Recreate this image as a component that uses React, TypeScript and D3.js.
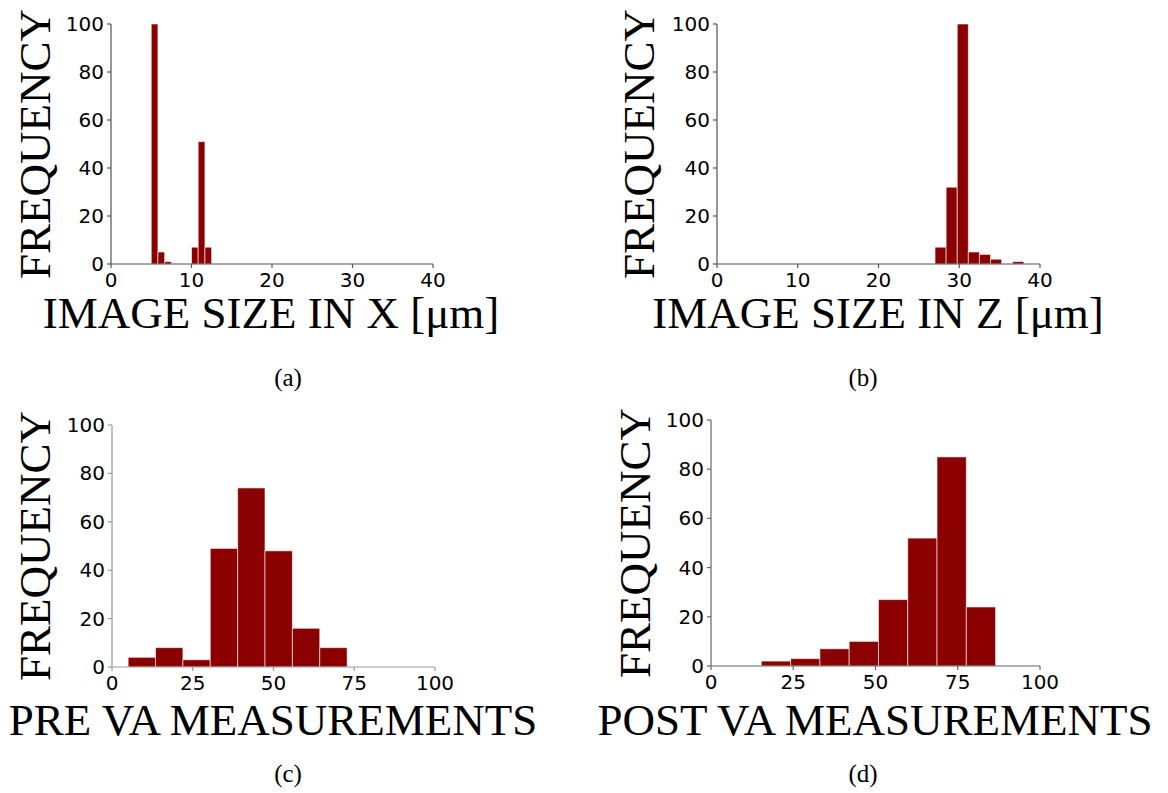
import React from 'react'
import * as d3 from 'd3'

// bin edges and counts
const edgesX = [5.0, 5.83, 6.67, 7.5, 8.33, 9.17, 10.0, 10.83, 11.67, 12.5]
const countsX = [100, 5, 1, 0, 0, 0, 7, 51, 7]

const edgesZ = [27.0, 28.375, 29.75, 31.125, 32.5, 33.875, 35.25, 36.625, 38.0]
const countsZ = [7, 32, 100, 5, 4, 2, 0, 1]

const edgesPre = [5.0, 13.47, 21.95, 30.42, 38.9, 47.37, 55.85, 64.32, 72.8]
const countsPre = [4, 8, 3, 49, 74, 48, 16, 8]

const edgesPost = [15.3, 24.2, 33.1, 42.0, 50.9, 59.8, 68.7, 77.6, 86.5]
const countsPost = [2, 3, 7, 10, 27, 52, 85, 24]

const ticksSize = [0, 10, 20, 30, 40]
const ticksVA = [0, 25, 50, 75, 100]
const ticksFreq = [0, 20, 40, 60, 80, 100]

const BAR = '#8b0000'
const SANS = '"DejaVu Sans", sans-serif'
const SERIF = '"Liberation Serif", "Times New Roman", serif'

type HistProps = {
  edges: number[]
  counts: number[]
  xDomain: [number, number]
  xTicks: number[]
  box: { left: number; right: number; top: number; bottom: number }
  axisColor: string
  xTitle: string
  xTitleX: number
  xTitleY: number
  yTitleX: number
  caption: string
  captionX: number
  captionY: number
}

const Histogram = (p: HistProps) => {
  const { left, right, top, bottom } = p.box
  const x = d3.scaleLinear().domain(p.xDomain).range([left, right])
  const y = d3.scaleLinear().domain([0, 100]).range([bottom, top])
  const bins = p.counts.map((c, i) => ({ x0: p.edges[i], x1: p.edges[i + 1], c }))

  return (
    <g>
      {bins
        .filter(b => b.c > 0)
        .map((b, i) => (
          <rect
            key={i}
            x={x(b.x0)}
            y={y(b.c)}
            width={x(b.x1) - x(b.x0)}
            height={y(0) - y(b.c)}
            fill={BAR}
            stroke="#fff"
            strokeOpacity={0.6}
            strokeWidth={1}
          />
        ))}

      {/* axes */}
      <line x1={left} x2={right} y1={bottom} y2={bottom} stroke={p.axisColor} strokeWidth={1.2} />
      <line x1={left} x2={left} y1={top} y2={bottom} stroke={p.axisColor} strokeWidth={1.2} />

      {p.xTicks.map(t => (
        <g key={'x' + t} transform={`translate(${x(t)},${bottom})`}>
          <line y2={4} stroke={p.axisColor} strokeWidth={1.2} />
          <text y={23} textAnchor="middle" fontFamily={SANS} fontSize={20} fill="#000">
            {t}
          </text>
        </g>
      ))}
      {ticksFreq.map(t => (
        <g key={'y' + t} transform={`translate(${left},${y(t)})`}>
          <line x2={-4} stroke={p.axisColor} strokeWidth={1.2} />
          <text x={-7} dy="0.35em" textAnchor="end" fontFamily={SANS} fontSize={20} fill="#000">
            {t}
          </text>
        </g>
      ))}

      {/* titles */}
      <text
        transform={`translate(${p.yTitleX},${(top + bottom) / 2}) rotate(-90)`}
        textAnchor="middle"
        fontFamily={SERIF}
        fontSize={45}
        fill="#000"
      >
        FREQUENCY
      </text>
      <text x={p.xTitleX} y={p.xTitleY} textAnchor="middle" fontFamily={SERIF} fontSize={45} fill="#000">
        {p.xTitle}
      </text>
      <text x={p.captionX} y={p.captionY} textAnchor="middle" fontFamily={SERIF} fontSize={25} fill="#000">
        {p.caption}
      </text>
    </g>
  )
}

export default function App() {
  return (
    <svg
      width={1168}
      height={793}
      style={{ position: 'absolute', left: 0, top: 0, background: '#fff' }}
    >
      <Histogram
        edges={edgesX}
        counts={countsX}
        xDomain={[0, 40]}
        xTicks={ticksSize}
        box={{ left: 111, right: 433, top: 24, bottom: 264 }}
        axisColor="#555"
        xTitle="IMAGE SIZE IN X [μm]"
        xTitleX={271}
        xTitleY={328}
        yTitleX={50}
        caption="(a)"
        captionX={288}
        captionY={386}
      />
      <Histogram
        edges={edgesZ}
        counts={countsZ}
        xDomain={[0, 40]}
        xTicks={ticksSize}
        box={{ left: 717, right: 1040, top: 24, bottom: 264 }}
        axisColor="#555"
        xTitle="IMAGE SIZE IN Z [μm]"
        xTitleX={878}
        xTitleY={328}
        yTitleX={654}
        caption="(b)"
        captionX={863}
        captionY={386}
      />
      <Histogram
        edges={edgesPre}
        counts={countsPre}
        xDomain={[0, 100]}
        xTicks={ticksVA}
        box={{ left: 112, right: 435, top: 425, bottom: 667 }}
        axisColor="#999"
        xTitle="PRE VA MEASUREMENTS"
        xTitleX={273}
        xTitleY={735}
        yTitleX={50}
        caption="(c)"
        captionX={288}
        captionY={782}
      />
      <Histogram
        edges={edgesPost}
        counts={countsPost}
        xDomain={[0, 100]}
        xTicks={ticksVA}
        box={{ left: 711, right: 1040, top: 420, bottom: 666 }}
        axisColor="#666"
        xTitle="POST VA MEASUREMENTS"
        xTitleX={875}
        xTitleY={735}
        yTitleX={650}
        caption="(d)"
        captionX={863}
        captionY={782}
      />
    </svg>
  )
}
